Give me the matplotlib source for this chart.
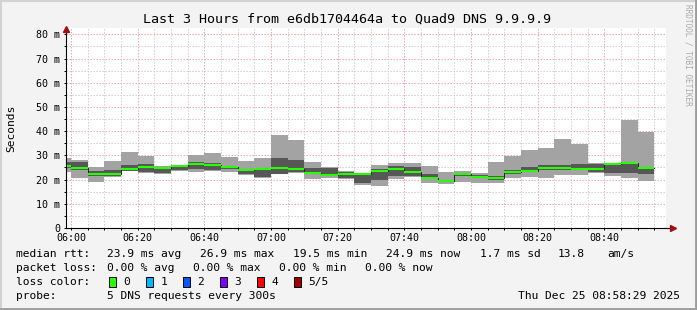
import matplotlib
matplotlib.use("Agg")
import matplotlib.pyplot as plt
import matplotlib.dates as mdates
from matplotlib.patches import Rectangle
from matplotlib.lines import Line2D
import pandas as pd

plt.rcParams['font.family'] = ['DejaVu Sans Mono']

# 5 minute bins, first one is partly cut off by the window start
bin_start = pd.date_range('2025-12-25 05:55', periods=36, freq='5min')
win_start = pd.Timestamp('2025-12-25 05:58:29')
win_end = pd.Timestamp('2025-12-25 08:58:29')

# smoke (ms): min, lower quartile, median, upper quartile, max
ping_min = [23.3, 20.8, 19.1, 21.2, 23.6, 22.9, 22.3, 23.6, 23.3, 23.7, 23.0, 21.9,
            20.8, 22.3, 22.9, 20.2, 20.7, 20.2, 17.6, 17.5, 20.1, 20.9, 18.7, 18.0,
            19.1, 18.5, 18.7, 20.5, 21.2, 20.8, 22.0, 21.9, 22.6, 21.6, 20.7, 19.6]
ping_lo = [24.7, 24.0, 21.6, 21.4, 23.7, 23.3, 22.6, 23.9, 24.2, 23.9, 24.4, 22.3,
           20.9, 22.5, 23.3, 22.2, 21.3, 20.5, 18.6, 20.0, 21.5, 21.5, 20.1, 18.8,
           21.6, 20.5, 19.9, 22.3, 23.3, 23.8, 24.0, 24.0, 23.3, 22.6, 22.6, 22.3]
ping_med = [25.6, 24.9, 22.3, 22.3, 24.4, 25.2, 24.8, 25.6, 26.6, 26.2, 25.2, 24.0,
            24.4, 24.8, 24.4, 22.9, 22.0, 22.4, 22.4, 23.6, 24.5, 23.3, 20.8, 19.5,
            22.2, 21.1, 20.5, 23.1, 23.7, 24.7, 24.8, 24.2, 24.5, 26.6, 26.9, 24.9]
ping_hi = [27.4, 27.3, 23.6, 24.0, 26.0, 26.4, 25.2, 25.9, 27.3, 27.0, 25.7, 24.5,
           24.9, 29.1, 28.1, 24.9, 24.9, 23.3, 22.5, 24.5, 25.6, 25.3, 22.3, 19.8,
           22.5, 21.8, 21.5, 23.9, 25.2, 26.0, 26.0, 26.4, 26.3, 26.8, 27.2, 25.2]
ping_max = [29.0, 28.1, 25.2, 27.7, 31.4, 29.9, 25.6, 26.1, 30.2, 31.0, 29.5, 27.7,
            29.1, 38.6, 36.4, 27.3, 25.1, 23.6, 22.8, 26.0, 27.0, 27.0, 25.6, 23.1,
            23.5, 22.6, 27.3, 29.8, 32.2, 33.0, 36.8, 34.7, 26.7, 27.0, 44.6, 39.7]

y_ticks = [0, 10, 20, 30, 40, 50, 60, 70, 80]
y_labels = ['0', '10 m', '20 m', '30 m', '40 m', '50 m', '60 m', '70 m', '80 m']

W, H = 697, 310
fig = plt.figure(figsize=(W / 100, H / 100), dpi=100)
fig.patch.set_facecolor('#f3f3f3')
ax = fig.add_axes([66 / W, 82 / H, 600 / W, 200 / H])
ax.set_facecolor('white')

width = pd.Timedelta(minutes=5)
wd = 5 / 1440
ax.bar(bin_start, [b - a for a, b in zip(ping_min, ping_max)], bottom=ping_min,
       width=wd, align='edge', color='#a3a3a3', linewidth=0, zorder=2)
ax.bar(bin_start, [b - a for a, b in zip(ping_lo, ping_hi)], bottom=ping_lo,
       width=wd, align='edge', color='#575757', linewidth=0, zorder=3)
ax.step(list(bin_start) + [bin_start[-1] + width], ping_med + [ping_med[-1]],
        where='post', color='#222222', lw=0.7, zorder=4)
ax.hlines(ping_med, bin_start, bin_start + width, color='#26ff00', lw=1.5, zorder=5)

ax.set_xlim(win_start, win_end)
ax.set_ylim(0, 82.6)

ax.xaxis.set_major_locator(mdates.MinuteLocator(byminute=[0, 20, 40]))
ax.xaxis.set_minor_locator(mdates.MinuteLocator(byminute=range(0, 60, 5)))
ax.xaxis.set_major_formatter(mdates.DateFormatter('%H:%M'))
ax.set_yticks(y_ticks)
ax.set_yticklabels(y_labels)
ax.set_yticks(range(5, 85, 10), minor=True)

ax.set_axisbelow(True)
dots = (0, (1.4, 1.6))
ax.grid(which='major', color='#e9a6a6', lw=0.72, ls=dots)
ax.grid(which='minor', color='#cfcfcf', lw=0.72, ls=dots)

for s in ax.spines.values():
    s.set_visible(False)
ax.tick_params(which='both', length=1.5, width=0.7, labelsize=7.2, color='black')
ax.tick_params(axis='y', pad=2.8)
ax.tick_params(axis='x', pad=2.4)

# axis lines with the red arrow heads
ax.plot([0, 1.012], [0, 0], transform=ax.transAxes, color='black', lw=0.8,
        clip_on=False, zorder=6)
ax.plot([0, 0], [0, 1.0], transform=ax.transAxes, color='black', lw=0.8,
        clip_on=False, zorder=6)
ax.plot([1.012], [0], transform=ax.transAxes, marker='>', ms=4, color='#a01010',
        clip_on=False, zorder=7)
ax.plot([0], [0.995], transform=ax.transAxes, marker='^', ms=4, color='#a01010',
        clip_on=False, zorder=7)

fig.text(347 / W, 1 - 19 / H, 'Last 3 Hours from e6db1704464a to Quad9 DNS 9.9.9.9',
         ha='center', va='center', fontsize=9.6)
fig.text(11 / W, 1 - 128 / H, 'Seconds', rotation=90, ha='center', va='center',
         fontsize=8.1)
fig.text(688 / W, 1 - 4 / H, 'RRDTOOL / TOBI OETIKER', rotation=270, ha='center',
         va='top', fontsize=5.6, color='#aaaaaa')


def put(x, y, s, **kw):
    fig.text(x / W, 1 - y / H, s, va='center', fontsize=8.1, **kw)


put(16, 254.3, 'median rtt:')
put(107.3, 254.3, '23.9 ms avg')
put(200, 254.3, '26.9 ms max')
put(293.3, 254.3, '19.5 ms min')
put(386.3, 254.3, '24.9 ms now')
put(479.7, 254.3, '1.7 ms sd')
put(558, 254.3, '13.8')
put(607, 254.3, 'am/s')

put(16, 268.3, 'packet loss:')
put(107.3, 268.3, '0.00 % avg')
put(193.3, 268.3, '0.00 % max')
put(279.3, 268.3, '0.00 % min')
put(365.3, 268.3, '0.00 % now')

loss_names = ['0', '1', '2', '3', '4', '5/5']
loss_colors = ['#26ff00', '#00b8ff', '#0059ff', '#7e00ff', '#ff0000', '#a00000']
box_x = [109, 146, 183, 219.5, 257, 293.5]
put(16, 281.7, 'loss color:')
for bx, name, col in zip(box_x, loss_names, loss_colors):
    fig.patches.append(Rectangle((bx / W, 1 - 286.5 / H), 7 / W, 9.5 / H,
                                 transform=fig.transFigure, facecolor=col,
                                 edgecolor='black', lw=0.7))
    put(bx + 14.5, 281.7, name)

put(16, 296, 'probe:')
put(107.3, 296, '5 DNS requests every 300s')
put(680.3, 296, 'Thu Dec 25 08:58:29 2025', ha='right')

# raised frame around the image
fig.add_artist(Line2D([0, 1], [1 - 1 / H, 1 - 1 / H], color='#d2d2d2', lw=1.5))
fig.add_artist(Line2D([1 / W, 1 / W], [0, 1], color='#d2d2d2', lw=1.5))
fig.add_artist(Line2D([0, 1], [1.5 / H, 1.5 / H], color='#9c9c9c', lw=2))
fig.add_artist(Line2D([1 - 1.5 / W, 1 - 1.5 / W], [0, 1], color='#9c9c9c', lw=2))

fig.savefig('out.png', dpi=100, facecolor=fig.get_facecolor())
